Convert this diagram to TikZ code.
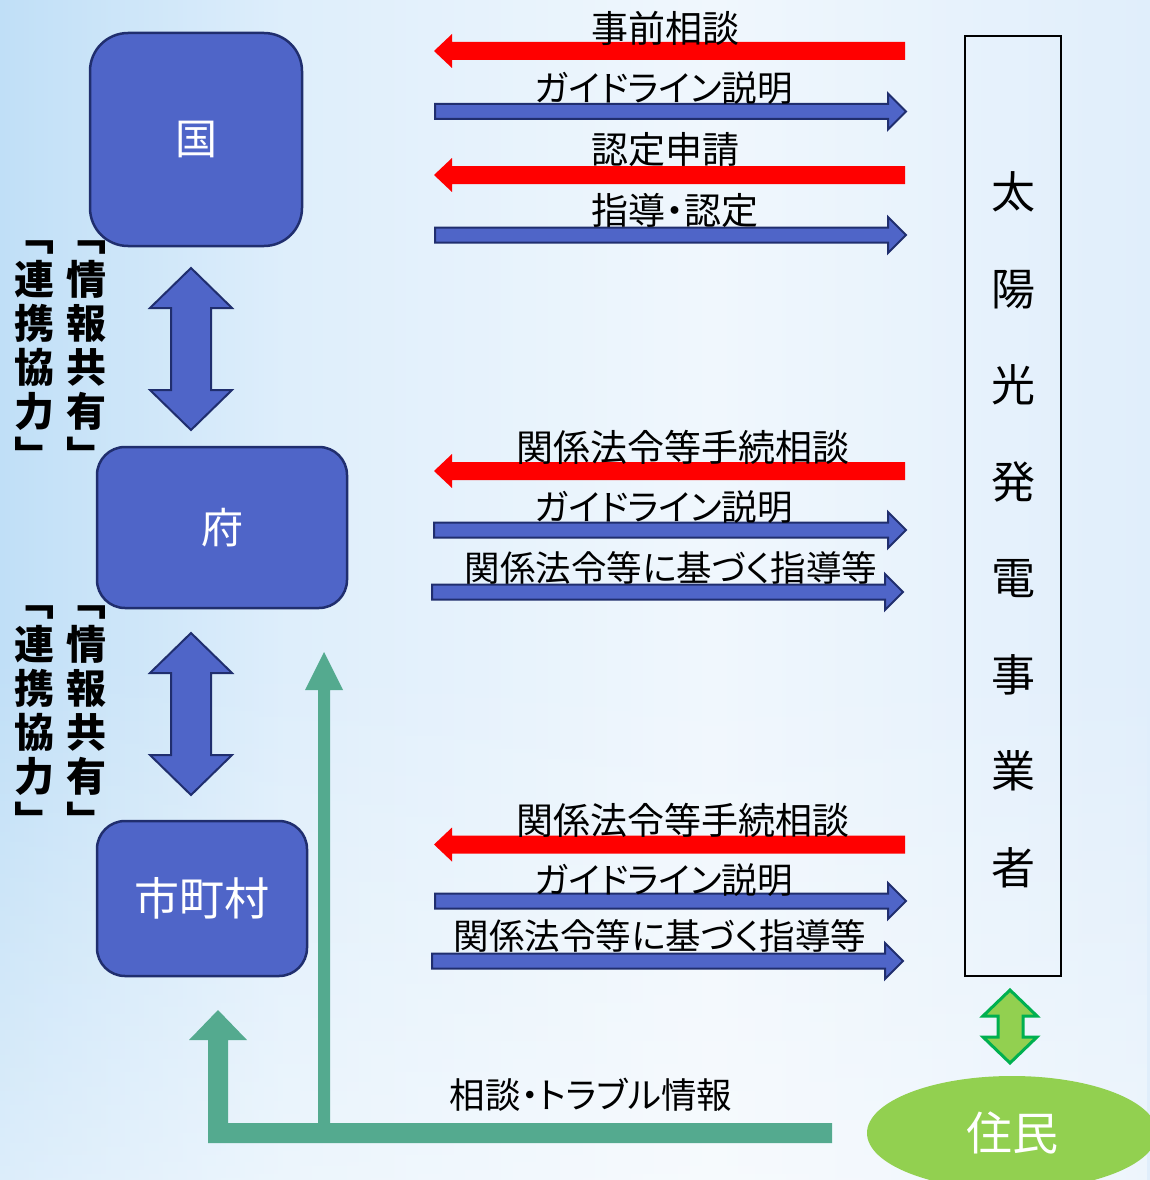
\documentclass[tikz,border=0pt]{standalone}
\usepackage{fontspec}
\setmainfont{Noto Sans CJK JP}
\newfontfamily\jp{Noto Sans CJK JP}
\newfontfamily\jpp{Noto Sans CJK JP}[RawFeature={+palt}]
\usetikzlibrary{shapes.geometric,fadings}
\definecolor{boxfill}{RGB}{79,101,200}
\definecolor{boxline}{RGB}{32,46,110}
\definecolor{redarr}{RGB}{255,0,0}
\definecolor{flowgreen}{RGB}{84,170,143}
\definecolor{lgreen}{RGB}{146,208,80}
\definecolor{dgreen}{RGB}{0,176,80}
\definecolor{bgblue}{RGB}{192,223,247}
\definecolor{bgA}{RGB}{222,238,251}
\definecolor{bgmid}{RGB}{240,247,253}
\definecolor{bgright}{RGB}{224,238,251}
\pgfdeclarehorizontalshading{bgshade}{100bp}{color(0bp)=(bgblue); color(25bp)=(bgblue); color(37.5bp)=(bgA); color(56bp)=(bgmid); color(75bp)=(bgright); color(100bp)=(bgright)}
\newcommand\leftarr[3]{\fill[redarr] (#1,#3) -- (#1+18,#3-17) -- (#1+18,#3-9) -- (#2,#3-9) -- (#2,#3+9) -- (#1+18,#3+9) -- (#1+18,#3+17) -- cycle;}
\newcommand\rightarr[3]{\filldraw[fill=boxfill,draw=boxline,line width=2pt,line join=miter] (#1,#3-7.5) -- (#2-18,#3-7.5) -- (#2-18,#3-18) -- (#2,#3) -- (#2-18,#3+18) -- (#2-18,#3+7.5) -- (#1,#3+7.5) -- cycle;}
\newcommand\dblarr[3]{\filldraw[fill=boxfill,draw=boxline,line width=2pt,line join=miter] (191,#1) -- (232,#2) -- (211,#2) -- (211,#3) -- (232,#3) -- (191,#1+162) -- (150,#3) -- (171,#3) -- (171,#2) -- (150,#2) -- cycle;}
\tikzset{
  govbox/.style={draw=boxline,fill=boxfill,line width=2.5pt,text=white,inner sep=0pt},
  lbl/.style={font=\jpp\fontsize{37}{40}\selectfont,inner sep=0pt,text=black},
  lblk/.style={font=\jpp\fontsize{35.5}{40}\selectfont,inner sep=0pt,text=black},
  vlbl/.style={font=\jp\bfseries\fontsize{40}{44}\selectfont,align=center,inner sep=0pt},
}
\begin{document}
\begin{tikzpicture}[x=1pt,y=-1pt]
\useasboundingbox (0,0) rectangle (1150,1180);
\clip (0,0) rectangle (1150,1180);
% background
\shade[shading=bgshade] (0,0) rectangle (1150,1180);
\fill[white,opacity=0.45,path fading=north] (0,650) rectangle (1150,1180);
% government boxes
\node[govbox,minimum width=212pt,minimum height=213pt,rounded corners=38pt,font=\jp\fontsize{42}{46}\selectfont] (kuni) at (196,139.5) {国};
\node[govbox,minimum width=250pt,minimum height=161pt,rounded corners=28pt,font=\jp\fontsize{42}{46}\selectfont] (fu) at (222,527.5) {府};
\node[govbox,minimum width=210pt,minimum height=155pt,rounded corners=28pt,font=\jp\fontsize{45}{48}\selectfont] (shi) at (202,898.5) {市町村};
% double arrows between boxes
\dblarr{268}{308}{390}
\dblarr{633}{673}{755}
% vertical labels
\node[vlbl] (kyoyu1) at (86,356) {﹁\\情\\報\\共\\有\\﹂};
\node[vlbl] (renkei1) at (34,356) {﹁\\連\\携\\協\\力\\﹂};
\node[vlbl] (kyoyu2) at (86,721) {﹁\\情\\報\\共\\有\\﹂};
\node[vlbl] (renkei2) at (34,721) {﹁\\連\\携\\協\\力\\﹂};
% business operator
\node[draw=black,line width=1.5pt,minimum width=96pt,minimum height=940pt,inner sep=0pt] (biz) at (1013,506) {};
\node[font=\jp\fontsize{44}{96.5}\selectfont,align=center,inner sep=0pt] (bizt) at (1013,530) {太\\陽\\光\\発\\電\\事\\業\\者};
% arrows top group
\leftarr{434}{905}{51}
\rightarr{435}{906}{111.5}
\leftarr{434}{905}{175}
\rightarr{435}{906}{235}
\node[lbl] (t1) at (665,28) {事前相談};
\node[lblk] (t2) at (664,88) {ガイドライン説明};
\node[lbl] (t3) at (665,150) {認定申請};
\node[lbl] (t4) at (675,210) {指導・認定};
% middle group
\leftarr{434}{905}{471}
\rightarr{434}{906}{530}
\rightarr{432}{903}{592}
\node[lbl] (m1) at (683,447) {関係法令等手続相談};
\node[lblk] (m2) at (664,507) {ガイドライン説明};
\node[lblk] (m3) at (671,568) {関係法令等に基づく指導等};
% bottom group
\leftarr{434}{905}{844.5}
\rightarr{435}{906}{901}
\rightarr{432}{903}{961}
\node[lbl] (b1) at (683,820) {関係法令等手続相談};
\node[lblk] (b2) at (664,880) {ガイドライン説明};
\node[lblk] (b3) at (660,936) {関係法令等に基づく指導等};
% residents
\node[ellipse,fill=lgreen,minimum width=290pt,minimum height=114pt,inner sep=0pt,text=white,font=\jp\fontsize{46}{50}\selectfont] (jumin) at (1012,1133) {住民};
\filldraw[fill=lgreen,draw=dgreen,line width=3pt,line join=miter] (1010,990) -- (1037,1016) -- (1023,1016) -- (1023,1037) -- (1037,1037) -- (1010,1063) -- (983,1037) -- (998,1037) -- (998,1016) -- (983,1016) -- cycle;
% consultation flow
\fill[flowgreen] (208,1143) -- (832,1143) -- (832,1123) -- (228,1123) -- (228,1040) -- (247,1040) -- (218,1010) -- (189,1040) -- (208,1040) -- cycle;
\fill[flowgreen] (318,1124) -- (318,690) -- (305,690) -- (324,652) -- (343,690) -- (330,690) -- (330,1124) -- cycle;
\node[lblk] (trouble) at (591,1095) {相談・トラブル情報};
\end{tikzpicture}
\end{document}
